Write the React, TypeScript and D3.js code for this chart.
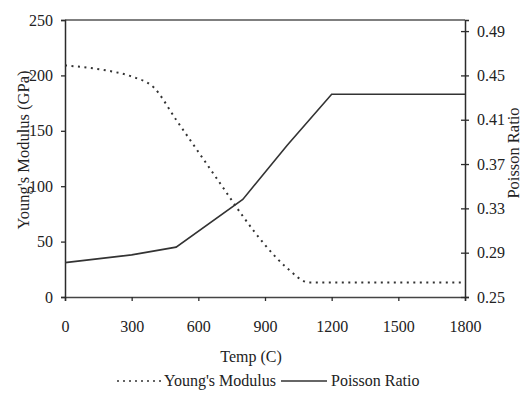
import React, { useEffect, useRef } from 'react'
import * as d3 from 'd3'

// temperature (C) and values
const youngTemp = [0, 100, 200, 300, 400, 500, 600, 700, 800, 900, 1000, 1100, 1200, 1500, 1800]
const youngValues = [209, 207, 204, 199, 189, 160, 131, 102, 73, 47, 26, 13, 13, 13, 13]

const poissonTemp = [0, 300, 500, 800, 1000, 1200, 1500, 1800]
const poissonValues = [0.281, 0.288, 0.295, 0.338, 0.387, 0.433, 0.433, 0.433]

const xTicks = [0, 300, 600, 900, 1200, 1500, 1800]
const leftTicks = [0, 50, 100, 150, 200, 250]
const rightTicks = [0.25, 0.29, 0.33, 0.37, 0.41, 0.45, 0.49]

const W = 528
const H = 401
const margin = { top: 20, right: 63, bottom: 104, left: 65 }
const font = '"Liberation Serif", "DejaVu Serif", serif'
const ink = '#2b2b2b'

const App = () => {
  const svgRef = useRef<SVGSVGElement>(null)

  useEffect(() => {
    const svg = d3.select(svgRef.current)
    svg.selectAll('*').remove()

    const x0 = margin.left
    const x1 = W - margin.right
    const y0 = H - margin.bottom
    const y1 = margin.top

    const xScale = d3.scaleLinear().domain([0, 1800]).range([x0, x1])
    const yLeft = d3.scaleLinear().domain([0, 250]).range([y0, y1])
    const yRight = d3.scaleLinear().domain([0.25, 0.5]).range([y0, y1])

    // frame top line
    svg.append('line')
      .attr('x1', x0).attr('x2', x1)
      .attr('y1', y1).attr('y2', y1)
      .attr('stroke', '#555').attr('stroke-width', 1.3)

    // bottom axis
    const xAxis = d3.axisBottom(xScale).tickValues(xTicks).tickSize(4).tickPadding(20)
      .tickFormat(d => String(d))
    const gx = svg.append('g').attr('transform', `translate(0,${y0})`).call(xAxis)

    // left axis
    const lAxis = d3.axisLeft(yLeft).tickValues(leftTicks).tickSize(4).tickPadding(8)
      .tickFormat(d => String(d))
    const gl = svg.append('g').attr('transform', `translate(${x0},0)`).call(lAxis)

    // right axis (ticks cross the line)
    const rAxis = d3.axisRight(yRight).tickValues(rightTicks).tickSize(4).tickPadding(8)
      .tickFormat(d => d3.format('.2f')(d as number))
    const gr = svg.append('g').attr('transform', `translate(${x1},0)`).call(rAxis)
    gr.selectAll('.tick line').attr('x1', -4)

    for (const g of [gx, gl, gr]) {
      g.select('.domain').attr('stroke', ink).attr('stroke-width', 1.5)
      g.selectAll('.tick line').attr('stroke', ink).attr('stroke-width', 1.3)
      g.selectAll('.tick text')
        .attr('font-family', font).attr('font-size', 16).attr('fill', '#222')
    }
    gx.select('.domain').attr('stroke', '#444')

    // Young's modulus, dotted
    const youngLine = d3.line<number>()
      .x((_, i) => xScale(youngTemp[i]))
      .y(v => yLeft(v))
      .curve(d3.curveMonotoneX)
    svg.append('path')
      .attr('d', youngLine(youngValues))
      .attr('fill', 'none').attr('stroke', '#333')
      .attr('stroke-width', 2).attr('stroke-dasharray', '2,4.5')

    // Poisson ratio, solid
    const poissonLine = d3.line<number>()
      .x((_, i) => xScale(poissonTemp[i]))
      .y(v => yRight(v))
    svg.append('path')
      .attr('d', poissonLine(poissonValues))
      .attr('fill', 'none').attr('stroke', '#333').attr('stroke-width', 1.6)

    // axis titles
    svg.append('text')
      .attr('transform', `translate(25,150) rotate(-90)`)
      .attr('text-anchor', 'middle').attr('dominant-baseline', 'middle')
      .attr('font-family', font).attr('font-size', 16.5).attr('fill', '#222')
      .text("Young's Modulus (GPa)")
    svg.append('text')
      .attr('transform', `translate(515,153) rotate(-90)`)
      .attr('text-anchor', 'middle').attr('dominant-baseline', 'middle')
      .attr('font-family', font).attr('font-size', 16.5).attr('fill', '#222')
      .text('Poisson Ratio')
    svg.append('text')
      .attr('x', 251).attr('y', 362)
      .attr('text-anchor', 'middle')
      .attr('font-family', font).attr('font-size', 16).attr('fill', '#222')
      .text('Temp (C)')

    // legend
    const lg = svg.append('g').attr('font-family', font).attr('font-size', 16).attr('fill', '#222')
    lg.append('line')
      .attr('x1', 117).attr('x2', 161).attr('y1', 381).attr('y2', 381)
      .attr('stroke', '#333').attr('stroke-width', 1.5).attr('stroke-dasharray', '2,4')
    lg.append('text').attr('x', 164).attr('y', 386).text("Young's Modulus")
    lg.append('line')
      .attr('x1', 281).attr('x2', 327).attr('y1', 381).attr('y2', 381)
      .attr('stroke', '#333').attr('stroke-width', 1.5)
    lg.append('text').attr('x', 331).attr('y', 386).text('Poisson Ratio')
  }, [])

  return (
    <svg ref={svgRef} width={W} height={H}
      style={{ position: 'absolute', left: 0, top: 0, background: '#fff' }} />
  )
}

export default App
